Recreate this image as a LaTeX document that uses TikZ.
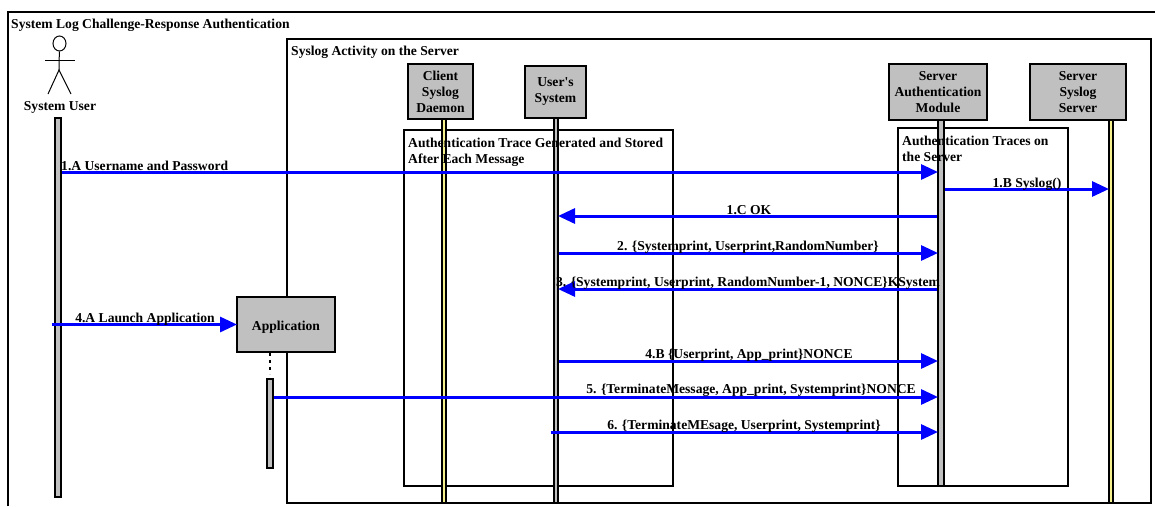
\documentclass[tikz,border=0pt]{standalone}
\usepackage{fontspec}
\setmainfont{Liberation Serif}[Ligatures=TeXOff]
\usepackage{tikz}
\usetikzlibrary{arrows.meta,shapes.geometric}
\definecolor{boxgray}{HTML}{C0C0C0}
\definecolor{baryellow}{HTML}{F4F08C}
\tikzset{
    frame/.style={shape=rectangle, draw=black, line width=2pt, inner sep=0pt},
    objbox/.style={shape=rectangle, draw=black, line width=2pt, fill=boxgray, align=center, inner sep=0pt},
    lifebar/.style={shape=rectangle, draw=black, line width=2pt, inner sep=0pt},
    msg/.style={draw=blue, line width=3pt, shorten >=-1pt, -{Triangle[length=17pt,width=15pt]}},
    lbl/.style={inner sep=0pt, align=left, anchor=north west},
    msglbl/.style={inner sep=0pt, anchor=base}
}
\begin{document}
\begin{tikzpicture}[x=1pt, y=-1pt, font=\fontsize{13.6}{16}\selectfont\bfseries]
    \useasboundingbox (0,0) rectangle (1155,506);
    % frames
    \draw[line width=2pt] (8,506) -- (8,12) -- (1155,12);
    \node[frame, minimum width=864pt, minimum height=464pt] at (719,271) (Activity) {};
    \node[frame, minimum width=269pt, minimum height=356pt] at (538.5,308) (TraceC) {};
    \node[frame, minimum width=170pt, minimum height=358pt] at (983,307) (TraceS) {};
    % lifelines
    \node[lifebar, fill=boxgray, minimum width=6pt, minimum height=379pt] at (57.5,307.5) (BarU) {};
    \node[lifebar, fill=baryellow, minimum width=4pt, minimum height=384pt] at (444,311) (BarC) {};
    \node[lifebar, fill=boxgray, minimum width=4pt, minimum height=385pt] at (556,310.5) (BarS) {};
    \node[lifebar, fill=boxgray, minimum width=6pt, minimum height=366pt] at (941,303) (BarA) {};
    \node[lifebar, fill=baryellow, minimum width=4pt, minimum height=383pt] at (1111,311.5) (BarL) {};
    \node[lifebar, fill=boxgray, minimum width=6pt, minimum height=89pt] at (269.5,423.5) (BarP) {};
    % objects
    \node[objbox, minimum width=65pt, minimum height=55pt] at (440.5,91.5) (Daemon) {Client\\Syslog\\Daemon};
    \node[objbox, minimum width=61pt, minimum height=52pt] at (555.5,92) (System) {User's\\System};
    \node[objbox, minimum width=98pt, minimum height=56pt] at (938,92) (Auth) {Server\\Authentication\\Module};
    \node[objbox, minimum width=96pt, minimum height=56pt] at (1078,92) (Server) {Server\\Syslog\\Server};
    \node[objbox, minimum width=98pt, minimum height=55pt, text height=11pt, text depth=0pt] at (286,324.5) (App) {Application};
    \draw[line width=2pt, dash pattern=on 3pt off 4pt, shorten >=4pt] (App.south -| BarP) -- (BarP.north);
    % actor
    \node[shape=ellipse, draw=black, line width=1pt, minimum width=13pt, minimum height=15pt, inner sep=0pt] at (59.5,43.5) (Head) {};
    \coordinate (Hip) at (59,70);
    \coordinate (ArmL) at (45,60);
    \coordinate (ArmR) at (75,60);
    \coordinate (FootL) at (48,94);
    \coordinate (FootR) at (71,94);
    \draw[line width=1pt] (Head) -- (Hip);
    \draw[line width=1pt] (ArmL) -- (ArmR);
    \draw[line width=1pt] (FootL) -- (Hip) -- (FootR);
    \node[msglbl] at (60,110) (Actor) {System User};
    % frame titles
    \node[msglbl, anchor=base west] at (11,28) (TitleA) {System Log Challenge-Response Authentication};
    \node[msglbl, anchor=base west] at (291,55) (TitleB) {Syslog Activity on the Server};
    \node[lbl] at (408,137.5) (TitleC) {Authentication Trace Generated and Stored\\After Each Message};
    \node[lbl] at (902,135.5) (TitleD) {Authentication Traces on\\the Server};
    % message heights
    \coordinate (M1) at (0,172);
    \coordinate (M1b) at (0,189);
    \coordinate (M1c) at (0,216);
    \coordinate (M2) at (0,253);
    \coordinate (M3) at (0,289);
    \coordinate (M4) at (0,324.5);
    \coordinate (M4b) at (0,361);
    \coordinate (M5) at (0,397);
    \coordinate (M6) at (0,432);
    % messages
    \path[msg] (BarU.east |- M1) -- (BarA.west |- M1);
    \path[msg] (BarA.east |- M1b) -- (BarL.west |- M1b);
    \path[msg] (BarA.west |- M1c) -- (BarS.east |- M1c);
    \path[msg] (BarS.east |- M2) -- (BarA.west |- M2);
    \path[msg] (BarA.west |- M3) -- (BarS.east |- M3);
    \path[msg, shorten <=-2pt] (BarU.west |- M4) -- (App.west |- M4);
    \path[msg] (BarS.east |- M4b) -- (BarA.west |- M4b);
    \path[msg] (BarP.east |- M5) -- (BarA.west |- M5);
    \path[msg, shorten <=-2pt] (BarS.west |- M6) -- (BarA.west |- M6);
    % message labels
    \node[msglbl, anchor=base west] at (61,170) (L1) {1.A Username and Password};
    \node[msglbl] at (1027,187) (L1b) {1.B Syslog()};
    \node[msglbl] at (749,214) (L1c) {1.C OK};
    \node[msglbl] at (748,250) (L2) {2. \{Systemprint, Userprint,RandomNumber\}};
    \node[msglbl] at (748,286) (L3) {3. \{Systemprint, Userprint, RandomNumber-1, NONCE\}KSystem};
    \node[msglbl] at (145,322) (L4) {4.A Launch Application};
    \node[msglbl] at (749,358) (L4b) {4.B \{Userprint, App\_print\}NONCE};
    \node[msglbl] at (751,393) (L5) {5. \{TerminateMessage, App\_print, Systemprint\}NONCE};
    \node[msglbl] at (744,429) (L6) {6. \{TerminateMEsage, Userprint, Systemprint\}};
\end{tikzpicture}
\end{document}
